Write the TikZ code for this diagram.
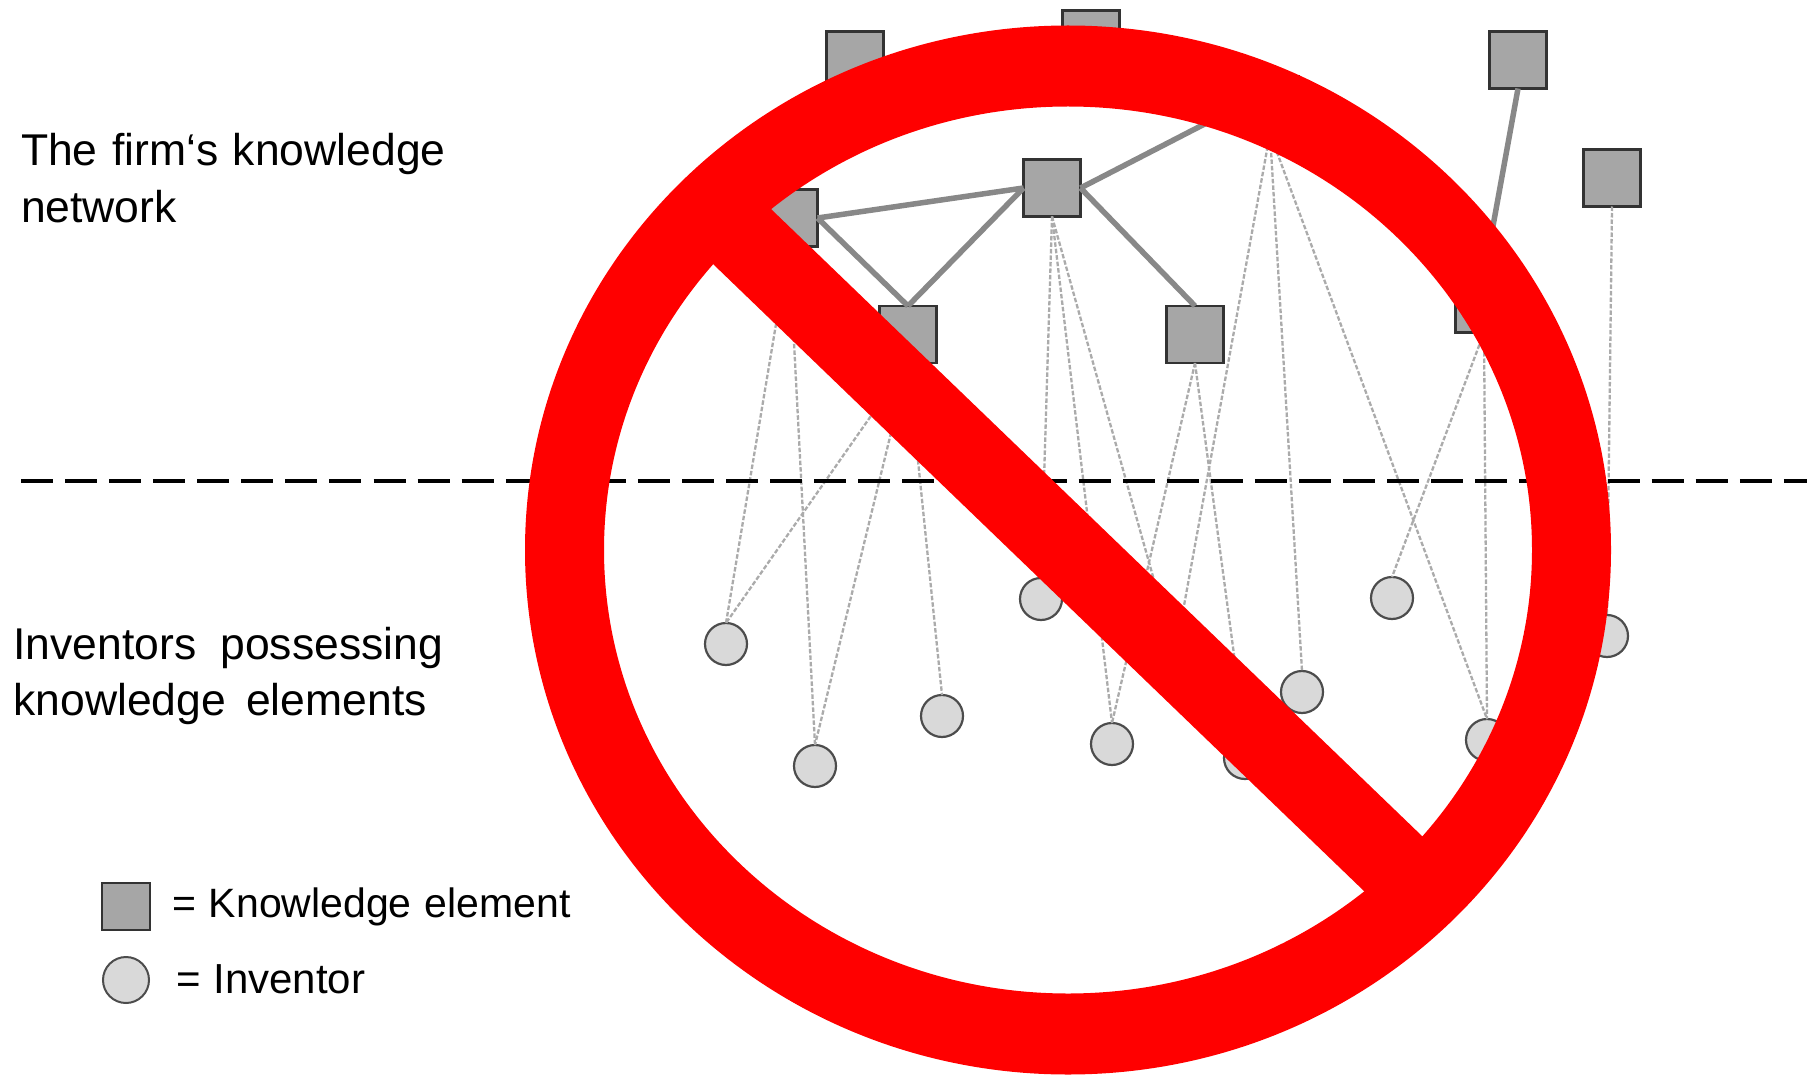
\documentclass[tikz,border=0pt]{standalone}
\usepackage{fontspec}
\setmainfont{Liberation Sans}
\tikzset{
  elem/.style={draw=black!80,fill=elemgrey,line width=2.4pt,rectangle,minimum width=57pt,minimum height=57pt,inner sep=0pt,outer sep=0pt},
  inv/.style={draw=black!70,fill=invgrey,line width=2.2pt,circle,minimum size=42pt,inner sep=0pt,outer sep=0pt},
  link/.style={draw=linkgrey,line width=5.5pt},
  tie/.style={draw=tiegrey,line width=2.3pt,dash pattern=on 4.5pt off 2pt},
  split/.style={draw=black,line width=4pt,dash pattern=on 32pt off 12.07pt},
  lbl/.style={anchor=base west,inner sep=0pt,outer sep=0pt,text=black},
  big/.style={font=\fontsize{44.5}{52}\selectfont},
  small/.style={font=\fontsize{41}{48}\selectfont},
}
\definecolor{elemgrey}{HTML}{A6A6A6}
\definecolor{invgrey}{HTML}{D9D9D9}
\definecolor{linkgrey}{HTML}{888888}
\definecolor{tiegrey}{HTML}{ABABAB}
\begin{document}
\begin{tikzpicture}[x=1pt,y=-1pt]
\useasboundingbox (0,0) rectangle (1807,1075);
% knowledge elements
\node[elem] (A) at (855,60) {};
\node[elem] (B) at (1091,39) {};
\node[elem] (C) at (789,218) {};
\node[elem] (D) at (1052,188) {};
\node[elem] (E) at (908,334.5) {};
\node[elem] (F) at (1195,334.5) {};
\node[elem] (G) at (1518,60) {};
\node[elem] (H) at (1612,178) {};
\node[elem] (I) at (1484,304) {};
\node[elem] (J) at (1270,105) {};
% inventors
\node[inv] (c1) at (726,644) {};
\node[inv] (c2) at (815,766) {};
\node[inv] (c3) at (942,716) {};
\node[inv] (c4) at (1041,599) {};
\node[inv] (c5) at (1112,744) {};
\node[inv] (c6) at (1392,598) {};
\node[inv] (c7) at (1302,692) {};
\node[inv] (c8) at (1607,636) {};
\node[inv] (c9) at (1487,740) {};
\node[inv] (c10) at (1245,758) {};
\coordinate (under) at (1175,655);
% knowledge links
\draw[link] (C.east) -- (D.west);
\draw[link] (C.east) -- (E.north);
\draw[link] (D.west) -- (E.north);
\draw[link] (D.east) -- (F.north);
\draw[link] (D.east) -- (J.west);
\draw[link] (G.south) -- (I.north);
% possession ties
\draw[tie] (C.south) -- (c1.north);
\draw[tie] (C.south) -- (c2.north);
\draw[tie] (E.south) -- (c1.north);
\draw[tie] (E.south) -- (c2.north);
\draw[tie] (E.south) -- (c3.north);
\draw[tie] (D.south) -- (c4.north);
\draw[tie] (D.south) -- (c5.north);
\draw[tie] (D.south) -- (under);
\draw[tie] (F.south) -- (c5.north);
\draw[tie] (F.south) -- (c10.north);
\draw[tie] (J.south) -- (under);
\draw[tie] (J.south) -- (c7.north);
\draw[tie] (J.south) -- (c9.north);
\draw[tie] (I.south) -- (c6.north);
\draw[tie] (I.south) -- (c9.north);
\draw[tie] (H.south) -- (c8.north);
% divider
\coordinate (sl) at (21,480.5);
\coordinate (sr) at (1807,480.5);
\draw[split] (sl) -- (sr);
% labels
\node[lbl,big] (t1) at (21,166) {\spaceskip=14.5pt The firm‘s knowledge};
\node[lbl,big] (t2) at (21,222.5) {network};
\node[lbl,big] (t3) at (13.5,659) {\spaceskip=24pt Inventors possessing};
\node[lbl,big] (t4) at (13.5,715) {knowledge\hspace{20pt}elements};
% legend
\node[elem,minimum width=48pt,minimum height=47pt,line width=2pt] (k1) at (126,906.5) {};
\node[inv,minimum size=46pt,line width=2pt] (k2) at (126,980) {};
\node[lbl,small] (k3) at (172,917) {\spaceskip=13pt = Knowledge element};
\node[lbl,small,font=\fontsize{42}{48}\selectfont] (k4) at (176,993) {\spaceskip=13pt = Inventor};
% prohibition sign
\fill[red,even odd rule] (1068,550) ellipse [x radius=543,y radius=524.5]
                         (1068,550) ellipse [x radius=464,y radius=443.5];
\fill[red] (670,222.6) -- (728,167.6) -- (1466,878.4) -- (1408,933.4) -- cycle;
\end{tikzpicture}
\end{document}
